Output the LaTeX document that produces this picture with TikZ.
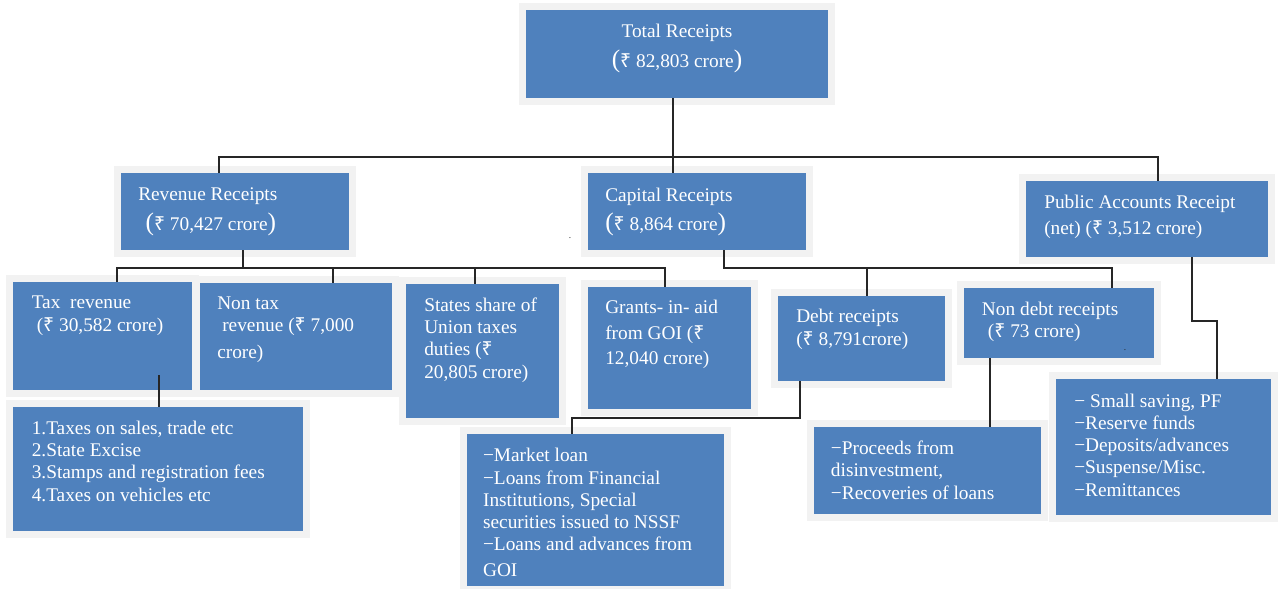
\documentclass[tikz,border=0pt]{standalone}
\usepackage{fontspec}
\setmainfont{Liberation Serif}
\newfontfamily\rupeefont{Noto Sans}
\usetikzlibrary{calc,fit}
\definecolor{boxblue}{HTML}{4F81BD}
\definecolor{framegray}{HTML}{F2F2F2}
\definecolor{wiregray}{HTML}{262626}
\newcommand{\bp}[1]{{\fontsize{19}{19}\selectfont #1}}
\newcommand{\rs}{{\rupeefont ₹}}
\tikzset{
	box/.style={rectangle, fill=boxblue, draw=framegray, line width=5.25pt, inner sep=2.625pt, outer sep=-2.625pt},
	txt/.style={text=white, inner sep=0pt, anchor=north west, align=left, yshift=-2.25pt, font=\fontsize{14.5}{16.7}\selectfont, execute at begin node=\strut},
	wire/.style={draw=wiregray, line width=1.4pt},
	speck/.style={inner sep=0pt, font=\scriptsize, text=wiregray},
}

\begin{document}
\begin{tikzpicture}[x=0.75pt,y=-0.75pt]
		%%%%% START %%%%%
		\useasboundingbox (0,0) rectangle (1279,589);
		
		% boxes
		\node[box, fit={(526,10) (828,98)}] (total) {};
		\node[box, fit={(121,173) (349,250)}] (rev) {};
		\node[box, fit={(588,173) (806,250)}] (cap) {};
		\node[box, fit={(1026,181) (1268,257)}] (pub) {};
		\node[box, fit={(13,282) (192,390)}] (tax) {};
		\node[box, fit={(200,283) (392,390)}] (nontax) {};
		\node[box, fit={(406,284) (559,418)}] (states) {};
		\node[box, fit={(588,287) (751,409)}] (grants) {};
		\node[box, fit={(778,296) (945,381)}] (debt) {};
		\node[box, fit={(964,288) (1154,358)}] (nondebt) {};
		\node[box, fit={(13,407) (303,531)}] (taxitems) {};
		\node[box, fit={(467,434) (724,586)}] (loans) {};
		\node[box, fit={(814,427) (1041,514)}] (proceeds) {};
		\node[box, fit={(1056,379) (1271,515)}] (pubitems) {};
		
		% texts
		\node[txt, anchor=north, align=center] (total-t) at (677,21.1) {Total Receipts\\[5.7pt]\bp{(}\rs\ 82,803 crore\bp{)}};
		\node[txt] (rev-t) at (138,184.4) {Revenue Receipts\\[5.7pt]\hspace{5.5pt}\bp{(}\rs\ 70,427 crore\bp{)}};
		\node[txt] (cap-t) at (605,184.4) {Capital Receipts\\[5.7pt]\bp{(}\rs\ 8,864 crore\bp{)}};
		\node[txt] (pub-t) at (1044,192.1) {Public Accounts Receipt\\[2.5pt](net) (\rs\ 3,512 crore)};
		\node[txt] (tax-t) at (31.5,292.4) {Tax~~revenue\\[1pt]\hspace{3.75pt}(\rs\ 30,582 crore)};
		\node[txt] (nontax-t) at (217,293.4) {Non tax\\\hspace{3.75pt}revenue (\rs\ 7,000\\[3.5pt]crore)};
		\node[txt] (states-t) at (424,294.4) {States share of\\Union taxes\\duties (\rs\\20,805 crore)};
		\node[txt] (grants-t) at (605,297.1) {Grants- in- aid\\[2.5pt]from GOI (\rs\\[2.5pt]12,040 crore)};
		\node[txt] (debt-t) at (796,306.1) {Debt receipts\\(\rs\ 8,791crore)};
		\node[txt] (nondebt-t) at (981.7,298.4) {Non debt receipts\\\hspace{4.5pt}(\rs\ 73 crore)};
		\node[txt] (taxitems-t) at (31.5,417.7) {1.Taxes on sales, trade etc\\2.State Excise\\3.Stamps and registration fees\\4.Taxes on vehicles etc};
		\node[txt] (loans-t) at (482.8,445.1) {−Market loan\\−Loans from Financial\\Institutions, Special\\securities issued to NSSF\\−Loans and advances from\\[2.8pt]GOI};
		\node[txt] (proceeds-t) at (830.7,437.7) {−Proceeds from\\disinvestment,\\−Recoveries of loans};
		\node[txt] (pubitems-t) at (1074,390.4) {− Small saving, PF\\−Reserve funds\\−Deposits/advances\\−Suspense/Misc.\\−Remittances};
		
		\node[speck] (speck1) at (570,238) {.};
		\node[speck] (speck2) at (1125,350) {.};
		
		% connectors
		\coordinate (tl) at (219,157);
		\coordinate (tm) at (673,157);
		\coordinate (tr) at (1158,157);
		\draw[wire] (total.south -| tm) -- (cap.north -| tm);
		\draw[wire] (rev.north -| tl) -- (tl) -- (tr) -- (pub.north -| tr);
		
		\coordinate (rl) at (117,268);
		\coordinate (rj) at (243,268);
		\coordinate (rn) at (333,268);
		\coordinate (rs) at (475,268);
		\coordinate (rr) at (665,268);
		\draw[wire] (rev.south -| rj) -- (rj);
		\draw[wire] (tax.north -| rl) -- (rl) -- (rr) -- (grants.north -| rr);
		\draw[wire] (rn) -- (nontax.north -| rn);
		\draw[wire] (rs) -- (states.north -| rs);
		
		\coordinate (cl) at (724,268);
		\coordinate (cd) at (867,268);
		\coordinate (cr) at (1112,268);
		\draw[wire] (cap.south -| cl) -- (cl) -- (cr) -- (nondebt.north -| cr);
		\draw[wire] (cd) -- (debt.north -| cd);
		
		\coordinate (pa) at (1192,321);
		\coordinate (pb) at (1217,321);
		\draw[wire] (pub.south -| pa) -- (pa) -- (pb) -- (pubitems.north -| pb);
		
		\coordinate (tx) at (159,400);
		\draw[wire] ($(tax.south -| tx)+(0,-15)$) -- (taxitems.north -| tx);
		
		\coordinate (dj) at (800,418);
		\coordinate (lj) at (572,418);
		\draw[wire] (debt.south -| dj) -- (dj) -- (lj) -- (loans.north -| lj);
		
		\coordinate (nx) at (990,400);
		\draw[wire] (nondebt.south -| nx) -- (proceeds.north -| nx);
		%%%%% END %%%%%
	\end{tikzpicture}
\end{document}
